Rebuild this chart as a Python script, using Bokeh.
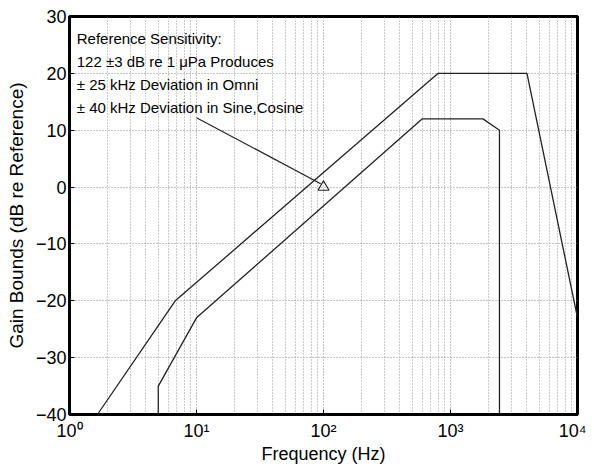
from bokeh.plotting import figure
from bokeh.models import Range1d, FixedTicker, CustomJSTickFormatter, Label
from bokeh.embed import file_html
from bokeh.resources import INLINE

# ---- data ----
upper_freq = [1.66, 6.8, 800, 4000, 10000]
upper_gain = [-40, -20, 20, 20, -23]
lower_freq = [5, 5, 10, 600, 1800, 2430, 2430]
lower_gain = [-40, -35, -23, 12, 12, 10, -40]
ref_freq = [100]
ref_gain = [0]
arrow_freq = [10, 95]
arrow_gain = [12.2, 0.6]
y_ticks = [-40, -30, -20, -10, 0, 10, 20, 30]
x_ticks = [1, 10, 100, 1000, 10000]
x_tick_labels = ["10\u2070", "10\u00b9", "10\u00b2", "10\u00b3", "10\u2074"]
note_lines = [
    "Reference Sensitivity:",
    "122 \u00b13 dB re 1 \u03bcPa Produces",
    "\u00b1 25 kHz Deviation in Omni",
    "\u00b1 40 kHz Deviation in Sine,Cosine",
]
x_label = "Frequency (Hz)"
y_label = "Gain Bounds (dB re Reference)"

FONT = "Liberation Sans"

p = figure(width=586, height=466, x_axis_type="log",
           x_range=Range1d(1, 10000), y_range=Range1d(-40, 30),
           output_backend="svg", toolbar_location=None,
           min_border_left=69, min_border_right=9, min_border_top=16, min_border_bottom=49)
p.background_fill_color = "white"
p.border_fill_color = "white"
p.outline_line_color = "black"
p.outline_line_width = 3

# grid
p.xgrid.grid_line_color = "#888888"
p.xgrid.grid_line_dash = "1 2"
p.xgrid.minor_grid_line_color = "#999999"
p.xgrid.minor_grid_line_dash = "1 2"
p.ygrid.grid_line_color = "#888888"
p.ygrid.grid_line_dash = "1 2"
p.ygrid.ticker = FixedTicker(ticks=y_ticks)

# axes
xa = p.xaxis[0]
xa.ticker = FixedTicker(ticks=x_ticks, minor_ticks=[m * d for d in [1, 10, 100, 1000] for m in range(2, 10)])
xa.formatter = CustomJSTickFormatter(args=dict(labels=x_tick_labels),
                                     code="return labels[Math.round(Math.log10(tick))];")
ya = p.yaxis[0]
ya.ticker = FixedTicker(ticks=y_ticks)
for ax in (xa, ya):
    ax.axis_line_width = 3
    ax.axis_line_color = "black"
    ax.major_tick_in = 5
    ax.major_tick_out = 0
    ax.minor_tick_in = 0
    ax.minor_tick_out = 0
    ax.major_label_text_font = FONT
    ax.major_label_text_font_size = "18px"
    ax.major_label_text_color = "black"
    ax.axis_label_text_font = FONT
    ax.axis_label_text_font_style = "normal"
    ax.axis_label_text_color = "black"
xa.axis_label_text_font_size = "18px"
ya.axis_label_text_font_size = "19px"
xa.axis_label = x_label
ya.axis_label = y_label
xa.major_label_standoff = 6
xa.axis_label_standoff = 0
ya.major_label_standoff = 3
ya.axis_label_standoff = 6

# curves
p.line(upper_freq, upper_gain, line_color="#222222", line_width=1.3)
p.line(lower_freq, lower_gain, line_color="#222222", line_width=1.3)
p.line(arrow_freq, arrow_gain, line_color="#222222", line_width=1.2)
p.scatter(ref_freq, ref_gain, marker="triangle", size=11, fill_color=None,
          line_color="#222222", line_width=1.2)

# annotation text
note_y = [26.2, 22.0, 18.0, 13.95]
for txt, yy in zip(note_lines, note_y):
    p.add_layout(Label(x=1.14, y=yy, text=txt, text_font=FONT, text_font_size="15px",
                       text_baseline="middle", text_color="black"))

open("out.html", "w").write(file_html(p, INLINE))
